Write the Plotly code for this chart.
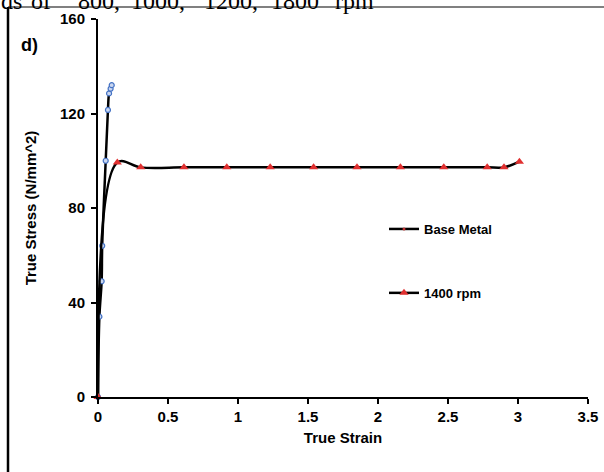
import plotly.graph_objects as go

# Data
base_strain = [0.0, 0.010, 0.026, 0.030, 0.055, 0.071, 0.079, 0.090, 0.098]
base_stress = [0.0, 34.0, 49.0, 64.0, 100.0, 121.5, 128.5, 130.5, 132.0]

rpm_strain = [0.0, 0.138, 0.305, 0.614, 0.92, 1.23, 1.54, 1.85, 2.16, 2.47, 2.78, 2.90, 3.01]
rpm_stress = [0.0, 99.3, 97.2, 97.2, 97.2, 97.2, 97.2, 97.2, 97.2, 97.2, 97.2, 97.2, 99.6]

x_ticks = [0, 0.5, 1, 1.5, 2, 2.5, 3, 3.5]
x_tick_text = ["0", "0.5", "1", "1.5", "2", "2.5", "3", "3.5"]
y_ticks = [0, 40, 80, 120, 160]

# cut-off caption words from the document above the figure
caption_words = ["ds", "of", "800,", "1000,", "1200,", "1800", "rpm"]
caption_left_px = [0, 30, 77, 130, 203, 270, 334]

W, H = 604, 472
L, R, T, B = 98, 16, 19, 75
pw, ph = W - L - R, H - T - B

def px(xp):
    return (xp - L) / pw

def py(yp):
    return (H - B - yp) / ph

FONT = "Liberation Sans, Arial, sans-serif"

fig = go.Figure()

fig.add_trace(go.Scatter(
    x=base_strain, y=base_stress, mode="lines+markers",
    line=dict(color="black", width=2.5, shape="spline", smoothing=1.0),
    marker=dict(symbol="circle", size=5, color="#c9d6f0",
                line=dict(color="#4472c4", width=1.2)),
    showlegend=False, cliponaxis=False))

fig.add_trace(go.Scatter(
    x=rpm_strain, y=rpm_stress, mode="lines+markers",
    line=dict(color="black", width=2.5, shape="spline", smoothing=1.0),
    marker=dict(symbol="triangle-up", size=8, color="#e03030"),
    showlegend=False, cliponaxis=False))

# legend-only traces
fig.add_trace(go.Scatter(
    x=[None], y=[None], mode="lines+markers", name="Base Metal",
    legendgroup="a",
    line=dict(color="black", width=2.5),
    marker=dict(symbol="circle", size=3, color="#c03030")))
fig.add_trace(go.Scatter(
    x=[None], y=[None], mode="lines+markers", name="1400 rpm",
    legendgroup="b",
    line=dict(color="black", width=2.5),
    marker=dict(symbol="triangle-up", size=8, color="#e03030")))

fig.update_layout(
    width=W, height=H,
    margin=dict(l=L, r=R, t=T, b=B, pad=0, autoexpand=False),
    paper_bgcolor="white", plot_bgcolor="white",
    font=dict(family=FONT, color="black"),
    legend=dict(x=px(384), y=py(214), xanchor="left", yanchor="top",
                traceorder="grouped", tracegroupgap=44,
                font=dict(family=FONT, size=13, color="black", weight="bold"),
                bgcolor="rgba(0,0,0,0)", itemwidth=30),
    xaxis=dict(range=[0, 3.5], tickvals=x_ticks, ticktext=x_tick_text,
               automargin=False,
               showgrid=False, zeroline=False, showline=True,
               linecolor="black", linewidth=2, ticks="outside",
               ticklen=5, tickwidth=2, tickcolor="black",
               tickfont=dict(family=FONT, size=15, color="black", weight="bold"),
               title=dict(text="True Strain", standoff=8,
                          font=dict(family=FONT, size=15, color="black", weight="bold"))),
    yaxis=dict(range=[0, 160], tickvals=y_ticks,
               automargin=False,
               showgrid=False, zeroline=False, showline=True,
               linecolor="black", linewidth=2, ticks="outside",
               ticklen=5, tickwidth=2, tickcolor="black",
               ticklabelstandoff=3,
               tickfont=dict(family=FONT, size=15, color="black", weight="bold"),
               title=dict(text="True Stress (N/mm^2)", standoff=20,
                          font=dict(family=FONT, size=15, color="black", weight="bold"))),
)

fig.add_annotation(text="d)", xref="paper", yref="paper",
                   x=px(29), y=py(45), xanchor="center", yanchor="middle",
                   showarrow=False,
                   font=dict(family=FONT, size=18, color="black", weight="bold"))

for word, left in zip(caption_words, caption_left_px):
    fig.add_annotation(text=word, xref="paper", yref="paper",
                       x=px(left), y=py(15), xanchor="left", yanchor="bottom",
                       showarrow=False, borderpad=0,
                       font=dict(family="Liberation Serif, Times New Roman, serif",
                                 size=24, color="black"))

# document frame lines
fig.add_shape(type="line", xref="paper", yref="paper",
              x0=px(8), x1=px(604), y0=py(7), y1=py(7),
              line=dict(color="#808080", width=2))
fig.add_shape(type="line", xref="paper", yref="paper",
              x0=px(8), x1=px(8), y0=py(7), y1=py(472),
              line=dict(color="black", width=2.5))

fig.write_html("out.html", config={"displayModeBar": False},
               post_script="document.body.style.margin='0';document.body.style.overflow='hidden';")
